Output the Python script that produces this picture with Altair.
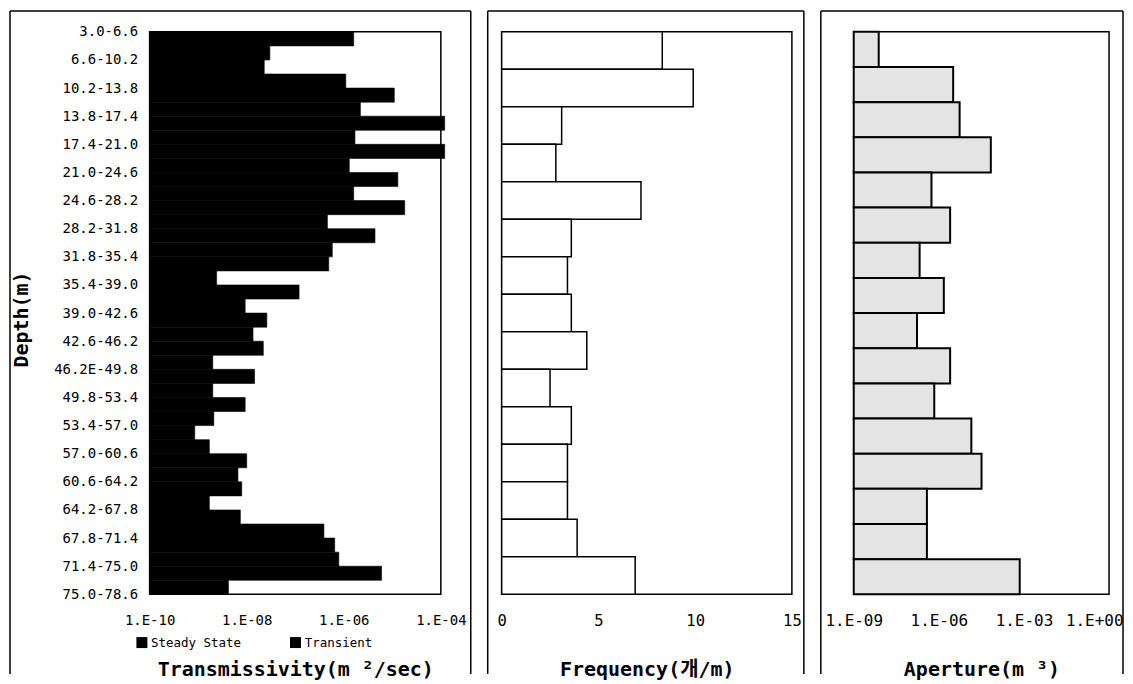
import altair as alt
import pandas as pd

FONT = "DejaVu Sans Mono"
KFONT = "DejaVu Sans Mono, Noto Sans CJK KR"

# ---------------- data ----------------
depth_labels = ["3.0-6.6", "6.6-10.2", "10.2-13.8", "13.8-17.4", "17.4-21.0",
                "21.0-24.6", "24.6-28.2", "28.2-31.8", "31.8-35.4", "35.4-39.0",
                "39.0-42.6", "42.6-46.2", "46.2E-49.8", "49.8-53.4", "53.4-57.0",
                "57.0-60.6", "60.6-64.2", "64.2-67.8", "67.8-71.4", "71.4-75.0",
                "75.0-78.6"]
steady_state = [None, 3.0e-8, 1.1e-6, 2.2e-6, 1.7e-6, 1.3e-6, 1.6e-6, 4.6e-7,
                5.8e-7, 2.4e-9, 9.3e-9, 1.35e-8, 2.0e-9, 2.0e-9, 2.1e-9, 1.7e-9,
                6.6e-9, 1.7e-9, 3.9e-7, 7.9e-7, 4.2e-9]
transient = [1.6e-6, 2.3e-8, 1.1e-5, 1.2e-4, 1.2e-4, 1.3e-5, 1.8e-5, 4.4e-6,
             4.9e-7, 1.2e-7, 2.6e-8, 2.2e-8, 1.45e-8, 9.3e-9, 8.5e-10, 1.0e-8,
             7.9e-9, 7.4e-9, 6.5e-7, 6.0e-6, None]
series_names = ["Steady State", "Transient"]

frequency = [8.3, 9.9, 3.1, 2.8, 7.2, 3.6, 3.4, 3.6, 4.4, 2.5, 3.6, 3.4, 3.4, 3.9, 6.9]

aperture = [7.6e-9, 3.2e-6, 5.4e-6, 6.8e-5, 5.5e-7, 2.5e-6, 2.1e-7, 1.5e-6,
            1.7e-7, 2.5e-6, 6.9e-7, 1.4e-5, 3.2e-5, 3.8e-7, 3.8e-7, 7.1e-4]

trans_ticks = [1e-10, 1e-8, 1e-6, 1e-4]
freq_ticks = [0, 5, 10, 15]
aper_ticks = [1e-9, 1e-6, 1e-3, 1]

# ---------------- tables ----------------
rows = []
for k, (s, t) in enumerate(zip(steady_state, transient)):
    rows.append({"k": k, "series": series_names[0], "T": s})
    rows.append({"k": k, "series": series_names[1], "T": t})
df1 = pd.DataFrame(rows)
df2 = pd.DataFrame({"i": list(range(1, len(frequency) + 1)), "f": frequency})
df3 = pd.DataFrame({"i": list(range(1, len(aperture) + 1)), "a": aperture})
one = pd.DataFrame({"z": [0]})

H = 564
EXP = ("'1.E' + (round(log(datum.value)/LN10) < 0 ? '-' : '+') + "
       "(abs(round(log(datum.value)/LN10)) < 10 ? '0' : '') + abs(round(log(datum.value)/LN10))")
label_js = "[" + ",".join("'%s'" % l for l in depth_labels) + "][datum.value]"

common_axis = dict(ticks=False, tickSize=0, domain=False, grid=False,
                   labelColor="black", titleColor="black", labelFlush=False)
VIEW = alt.ViewBackground(stroke="black", strokeWidth=1.5, fill="white")


def frame(x1, x2):
    """Outer panel frame (open at the bottom, as it runs off the page)."""
    base = alt.Chart(one).mark_rule(color="black", strokeWidth=1.5)
    left = base.encode(x=alt.value(x1), y=alt.value(-21), y2=alt.value(644))
    right = base.encode(x=alt.value(x2), y=alt.value(-21), y2=alt.value(644))
    top = base.encode(x=alt.value(x1), x2=alt.value(x2), y=alt.value(-21))
    return [left, right, top]


# ---------------- panel 1 ----------------
bars1 = alt.Chart(df1).transform_filter("isValid(datum.T)").transform_calculate(
    y0="datum.k + (datum.series == 'Steady State' ? -0.5 : 0)",
    y1="datum.k + (datum.series == 'Steady State' ? 0 : 0.5)",
).mark_rect(stroke="black", strokeWidth=0.6).encode(
    x=alt.X("T:Q",
            scale=alt.Scale(type="log", domain=[1e-10, 1e-4], nice=False),
            axis=alt.Axis(values=trans_ticks, labelExpr=EXP, labelFont=FONT,
                          labelFontSize=14, labelPadding=19,
                          title="Transmissivity(m ²/sec)", titleFont=FONT,
                          titleFontSize=20, titleFontWeight="bold", titleY=75,
                          titleBaseline="middle", **common_axis)),
    x2=alt.datum(1e-10),
    y=alt.Y("y0:Q",
            scale=alt.Scale(domain=[0, len(depth_labels) - 1], reverse=True, nice=False, zero=False),
            axis=alt.Axis(values=list(range(len(depth_labels))), labelExpr=label_js,
                          labelFont=FONT, labelFontSize=14, labelPadding=12,
                          title="Depth(m)", titleFont=FONT, titleFontSize=20,
                          titleFontWeight="bold", titleX=-128, titleY=288,
                          titleAngle=270, titleAlign="center", titleBaseline="middle",
                          **common_axis)),
    y2="y1:Q",
    color=alt.Color("series:N",
                    scale=alt.Scale(domain=series_names, range=["black", "black"]),
                    legend=alt.Legend(orient="none", legendX=-14, legendY=606,
                                      direction="horizontal", title=None,
                                      symbolType="square", symbolSize=121,
                                      symbolStrokeWidth=0, labelFont=FONT,
                                      labelFontSize=12.5, labelOffset=3,
                                      columnPadding=48, labelColor="black")),
)
p1 = alt.layer(bars1, *frame(-140, 322)).properties(width=292, height=H, view=VIEW)

# ---------------- panel 2 ----------------
bars2 = alt.Chart(df2).mark_bar(fill="white", stroke="black", strokeWidth=1.5).encode(
    x=alt.X("f:Q", scale=alt.Scale(domain=[0, 15], nice=False),
            axis=alt.Axis(values=freq_ticks, labelFont=FONT, labelFontSize=15.5,
                          labelPadding=19, title="Frequency(개/m)", titleFont=KFONT,
                          titleFontSize=20, titleFontWeight="bold", titleY=75,
                          titleBaseline="middle", **common_axis)),
    y=alt.Y("i:O", axis=None, scale=alt.Scale(paddingInner=0, paddingOuter=0)),
)
p2 = alt.layer(bars2, *frame(-14, 303)).properties(width=291, height=H, view=VIEW)

# ---------------- panel 3 ----------------
bars3 = alt.Chart(df3).mark_bar(fill="#e4e4e4", stroke="black", strokeWidth=2).encode(
    x=alt.X("a:Q", scale=alt.Scale(type="log", domain=[1e-9, 1], nice=False),
            axis=alt.Axis(values=aper_ticks, labelExpr=EXP, labelFont=FONT,
                          labelFontSize=16, labelPadding=18,
                          labelAlign={"condition": {"test": "datum.value >= 1", "value": "right"}, "value": "center"},
                          labelOffset={"condition": {"test": "datum.value >= 1", "value": 14}, "value": 0},
                          title="Aperture(m ³)", titleFont=FONT, titleFontSize=20,
                          titleFontWeight="bold", titleY=75, titleBaseline="middle",
                          **common_axis)),
    x2=alt.datum(1e-9),
    y=alt.Y("i:O", axis=None, scale=alt.Scale(paddingInner=0, paddingOuter=0)),
)
p3 = alt.layer(bars3, *frame(-33, 270)).properties(width=256, height=H, view=VIEW)

chart = alt.hconcat(p1, p2, p3, spacing=13).resolve_scale(
    color="independent", x="independent", y="independent"
).properties(padding=0).configure_view(stroke="black", strokeWidth=1.5).configure(
    font=FONT, background="white")

chart.save("out.html", embed_options={"renderer": "svg", "actions": False})
